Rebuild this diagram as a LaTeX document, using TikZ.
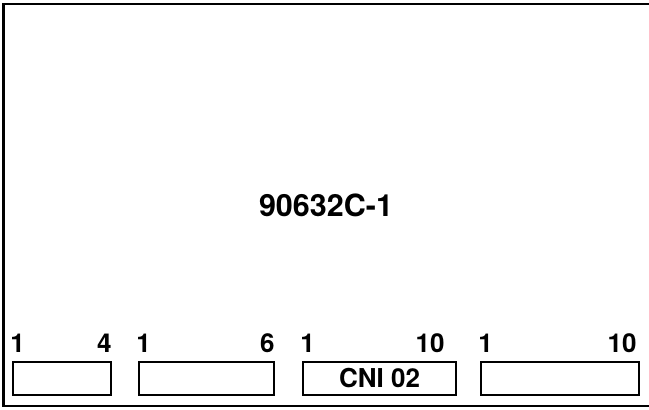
\documentclass[tikz,border=0pt]{standalone}
\usepackage{fontspec}
\setmainfont{TeX Gyre Heros}
\usetikzlibrary{positioning}

\begin{document}
\begin{tikzpicture}
  [x=1pt, y=1pt,
   frame/.style={line width=2.3pt},
   connector/.style={draw, line width=1.5pt, inner sep=0pt, minimum height=33pt,
                     font=\bfseries\fontsize{26}{26}\selectfont},
   pin label/.style={inner sep=0pt, font=\bfseries\fontsize{26}{26}\selectfont},
   title/.style={inner sep=0pt, font=\bfseries\fontsize{30.5}{30.5}\selectfont}]

  \useasboundingbox (0,0) rectangle (649,410);

  % board outline, open at the right
  \coordinate (frame-ne) at (649,406);
  \coordinate (frame-nw) at (3.5,406);
  \coordinate (frame-sw) at (3.5,4);
  \coordinate (frame-se) at (649,4);
  \draw [frame] (frame-ne) -- (frame-nw) -- (frame-sw) -- (frame-se);

  \node [title] (board) at (326,205) {90632C-1};

  \def\LabelGap{9pt}

  \node [connector, minimum width=98pt]  (J1) at (62,31.5)    {};
  \node [connector, minimum width=135pt] (J2) at (206.5,31.5) {};
  \node [connector, minimum width=153pt] (J3) at (379.5,31.5) {CNI 02};
  \node [connector, minimum width=158pt] (J4) at (560,31.5)   {};

  \node [pin label, above=\LabelGap of J1.north west, anchor=base west, xshift=-2pt] (J1-first) {1};
  \node [pin label, above=\LabelGap of J1.north east, anchor=base east]             (J1-last)  {4};
  \node [pin label, above=\LabelGap of J2.north west, anchor=base west, xshift=-2pt] (J2-first) {1};
  \node [pin label, above=\LabelGap of J2.north east, anchor=base east]             (J2-last)  {6};
  \node [pin label, above=\LabelGap of J3.north west, anchor=base west, xshift=-2pt] (J3-first) {1};
  \node [pin label, above=\LabelGap of J3.north east, anchor=base east, xshift=-12pt] (J3-last)  {10};
  \node [pin label, above=\LabelGap of J4.north west, anchor=base west, xshift=-2pt] (J4-first) {1};
  \node [pin label, above=\LabelGap of J4.north east, anchor=base east, xshift=-3pt]  (J4-last)  {10};
\end{tikzpicture}
\end{document}
